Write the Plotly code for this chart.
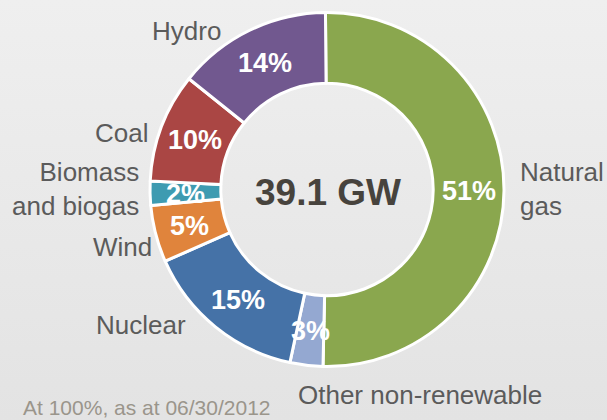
import math
import plotly.graph_objects as go

# ---- data ----
sources = ["Natural gas", "Other non-renewable", "Nuclear", "Wind",
           "Biomass and biogas", "Coal", "Hydro"]
shares = [50.5, 3.0, 15.0, 5.2, 2.2, 10.0, 14.1]
share_labels = ["51%", "3%", "15%", "5%", "2%", "10%", "14%"]
colors = ["#8aa74e", "#94a8d1", "#4572a7", "#e0843c", "#3e9bb1", "#aa4644", "#71588f"]
total_text = "39.1 GW"
footnote = "At 100%, as at 06/30/2012"

W, H = 607, 420
FONT = "Liberation Sans, Arial, sans-serif"
LABEL_COLOR = "#5b5b5b"
ROTATION = -0.5
HOLE = 0.6
CX, CY, R = 327.0, 189.5, 177.0   # pie placement in pixels

fig = go.Figure()

# background gradient
fig.add_trace(go.Scatter(
    x=[0, 1, 1, 0, 0], y=[0, 0, 1, 1, 0], mode="lines", fill="toself",
    line=dict(width=0), hoverinfo="skip", showlegend=False,
    fillgradient=dict(type="vertical",
                      colorscale=[[0, "#e3e3e3"], [1, "#efefef"]]),
))

fig.add_trace(go.Pie(
    labels=sources, values=shares, textinfo="none",
    marker=dict(colors=colors, line=dict(color="white", width=3)),
    hole=HOLE, sort=False, direction="clockwise", rotation=ROTATION,
    domain=dict(x=[(CX - R) / W, (CX + R) / W],
                y=[(H - CY - R) / H, (H - CY + R) / H]),
    showlegend=False, hoverinfo="label+percent",
))


def px(x):
    return x / W


def py(y):
    return 1 - y / H


# percentage labels at the middle of each ring segment
total = sum(shares)
r_mid = R * (1 + HOLE) / 2
cum = 0.0
for val, lab in zip(shares, share_labels):
    theta = math.radians(ROTATION + 360 * (cum + val / 2) / total)
    cum += val
    fig.add_annotation(
        text=lab, x=px(CX + r_mid * math.sin(theta)),
        y=py(CY - r_mid * math.cos(theta) + 1),
        xref="paper", yref="paper", xanchor="center", yanchor="middle",
        showarrow=False, borderpad=0,
        font=dict(family=FONT, size=27, color="white", weight="bold"),
    )

# category labels
anns = [
    ("Hydro", 222, 31, "right"),
    ("Coal", 149, 133, "right"),
    ("Biomass<br>and biogas", 140, 189, "right"),
    ("Wind", 153, 247, "right"),
    ("Nuclear", 187, 325, "right"),
    ("Natural<br>gas", 519, 189, "left"),
    ("Other non-renewable", 297, 395, "left"),
]
for txt, x, y, anc in anns:
    fig.add_annotation(
        text=txt, x=px(x), y=py(y), xref="paper", yref="paper",
        xanchor=anc, yanchor="middle", align=anc, showarrow=False,
        font=dict(family=FONT, size=26, color=LABEL_COLOR),
        borderpad=0,
    )

fig.add_annotation(
    text=total_text, x=px(327.5), y=py(193), xref="paper", yref="paper",
    xanchor="center", yanchor="middle", showarrow=False,
    font=dict(family=FONT, size=37, color="#47433d", weight="bold"),
)
fig.add_annotation(
    text=footnote, x=px(22), y=0, xref="paper", yref="paper",
    xanchor="left", yanchor="bottom", showarrow=False, borderpad=0,
    font=dict(family=FONT, size=21, color="#9a958b"),
)

fig.update_layout(
    width=W, height=H, margin=dict(l=0, r=0, t=0, b=0),
    paper_bgcolor="#e9e9e9", plot_bgcolor="rgba(0,0,0,0)",
    xaxis=dict(visible=False, range=[0, 1], fixedrange=True),
    yaxis=dict(visible=False, range=[0, 1], fixedrange=True),
    showlegend=False,
)

fig.write_html("out.html", config={"displayModeBar": False},
               post_script="document.body.style.margin='0';")
